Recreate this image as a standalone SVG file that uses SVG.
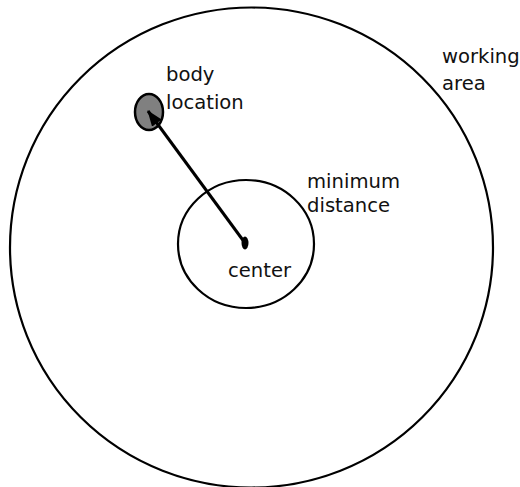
<svg xmlns="http://www.w3.org/2000/svg" width="520" height="487" viewBox="0 0 520 487">
<style>
.ln{fill:none;stroke:#000;stroke-width:2.2}
.t{font-family:"DejaVu Sans",sans-serif;font-size:19.6px;fill:#111}
</style>
<defs>
<marker id="ah" markerWidth="16" markerHeight="12" refX="15" refY="6" orient="auto" markerUnits="userSpaceOnUse" viewBox="0 0 16 12">
<path d="M0,0 L16,6 L0,12 Z" fill="#000"/>
</marker>
</defs>
<rect width="520" height="487" fill="#fff"/>
<g id="working-area">
<ellipse class="ln" cx="251.5" cy="247.5" rx="241.5" ry="240"/>
<text class="t" x="442" y="63">working</text>
<text class="t" x="442" y="90">area</text>
</g>
<g id="minimum-distance">
<ellipse class="ln" cx="246" cy="244" rx="68" ry="64"/>
<text class="t" x="307" y="188">minimum</text>
<text class="t" x="307" y="212">distance</text>
</g>
<g id="body-location">
<ellipse cx="149" cy="112" rx="14" ry="18" fill="#808080" stroke="#000" stroke-width="2.5"/>
<text class="t" x="166" y="81">body</text>
<text class="t" x="166" y="109">location</text>
</g>
<g id="center">
<ellipse cx="245" cy="243" rx="3.5" ry="6.5" fill="#000"/>
<text class="t" x="228" y="277">center</text>
</g>
<g id="connectors">
<line x1="245" y1="243" x2="148" y2="111" stroke="#000" stroke-width="3" marker-end="url(#ah)"/>
</g>
</svg>
